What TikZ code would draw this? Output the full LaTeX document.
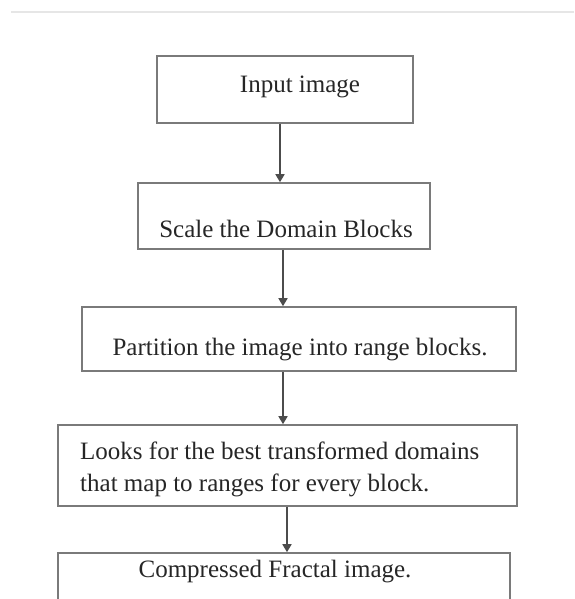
\documentclass[tikz,border=0pt]{standalone}
\usepackage{fontspec}
\setmainfont{Liberation Serif}
\usepackage{xcolor}
\usepackage{tikz}
\usetikzlibrary{arrows.meta, positioning}
\definecolor{boxline}{HTML}{7A7A7A}
\definecolor{rule}{HTML}{E6E6E6}

\begin{document}
\begin{tikzpicture}[x=1pt, y=-1pt,
      every node/.style={font=\fontsize{25}{32}\selectfont, text=black!85},
      box/.style={draw=boxline, line width=1.6pt, inner sep=0pt},
      arr/.style={-{Triangle[length=8pt, width=9pt]}, line width=1.6pt, black!70}]
    \useasboundingbox (0,0) rectangle (574,599);
    \clip (0,0) rectangle (574,599);
    \draw[rule, line width=2.5pt] (11,12) -- (574,12);
    % boxes
    \node[box, minimum width=256pt, minimum height=67pt] (inp) at (285,89.5) {};
    \node[box, minimum width=292pt, minimum height=66pt] (scl) at (284,216) {};
    \node[box, minimum width=434pt, minimum height=64pt] (part) at (299,339) {};
    \node[box, minimum width=459pt, minimum height=81pt] (srch) at (287.5,465.5) {};
    \node[box, minimum width=452pt, minimum height=67pt] (out) at (284,586.5) {};
    % texts
    \node (inpT) at (300,87) {Input image};
    \node (sclT) at (286,229) {Scale the Domain Blocks};
    \node (partT) at (300,350) {Partition the image into range blocks.};
    \node[align=left, anchor=west, inner sep=0pt] (srchT) at (80,469) {Looks for the best transformed domains\\that map to ranges for every block.};
    \node (outT) at (275,572) {Compressed Fractal image.};
    % arrows
    \draw[arr] ([xshift=-5pt]inp.south) -- ([xshift=-5pt]inp.south |- scl.north);
    \draw[arr] ([xshift=-1pt]scl.south) -- ([xshift=-1pt]scl.south |- part.north);
    \draw[arr] ([xshift=-16pt]part.south) -- ([xshift=-16pt]part.south |- srch.north);
    \draw[arr] ([xshift=-0.5pt]srch.south) -- ([xshift=-0.5pt]srch.south |- out.north);
  \end{tikzpicture}
\end{document}
